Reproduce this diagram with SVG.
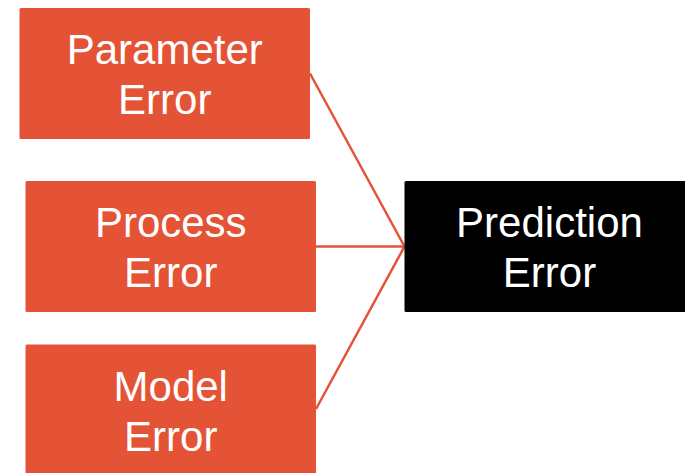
<svg xmlns="http://www.w3.org/2000/svg" width="685" height="473" viewBox="0 0 685 473">
  <style>
    .src { fill: #E45335; }
    .dst { fill: #000000; }
    .lbl { fill: #FFFFFF; font-family: "Liberation Sans", Arial, sans-serif; font-size: 42px; text-anchor: middle; }
    .link { stroke: #E45335; stroke-width: 2.5; fill: none; }
  </style>
  <rect width="685" height="473" fill="#FFFFFF"/>

  <g id="connectors">
    <line class="link" x1="310" y1="73.5" x2="404.5" y2="246.5"/>
    <line class="link" x1="316" y1="246.5" x2="404.5" y2="246.5"/>
    <line class="link" x1="316" y1="409" x2="404.5" y2="246.5"/>
  </g>

  <g id="parameter-error">
    <rect class="src" x="19.5" y="8" width="290.5" height="131" rx="1.5"/>
    <text class="lbl" x="164.75" y="63.5">Parameter</text>
    <text class="lbl" x="164.75" y="113.5">Error</text>
  </g>

  <g id="process-error">
    <rect class="src" x="25.5" y="181" width="290.5" height="131" rx="1.5"/>
    <text class="lbl" x="170.75" y="236.5">Process</text>
    <text class="lbl" x="170.75" y="286.5">Error</text>
  </g>

  <g id="model-error">
    <rect class="src" x="25.5" y="344.5" width="290.5" height="131" rx="1.5"/>
    <text class="lbl" x="170.75" y="400.5">Model</text>
    <text class="lbl" x="170.75" y="450.5">Error</text>
  </g>

  <g id="prediction-error">
    <rect class="dst" x="404.5" y="181" width="290.5" height="131" rx="1.5"/>
    <text class="lbl" x="549.5" y="236.5">Prediction</text>
    <text class="lbl" x="549.5" y="286.5">Error</text>
  </g>
</svg>
